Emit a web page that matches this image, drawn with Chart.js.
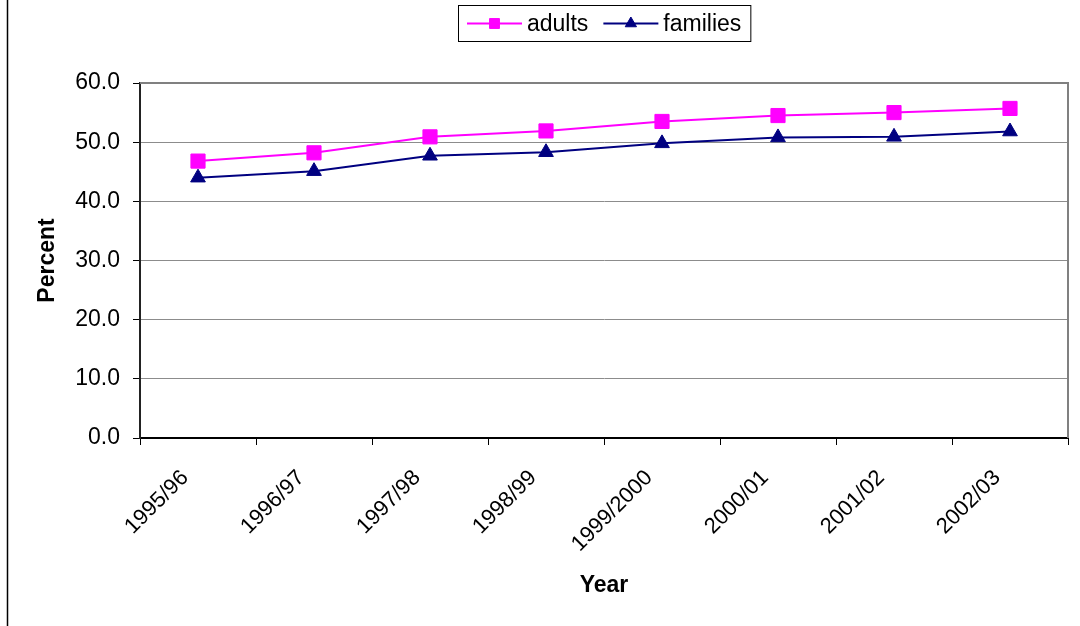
<!DOCTYPE html>
<html>
<head>
<meta charset="utf-8">
<script src="https://cdn.jsdelivr.net/npm/chart.js@4"></script>
<style>
  html, body { margin: 0; padding: 0; background: #fff; }
  canvas { display: block; }
</style>
</head>
<body>
<canvas id="c" width="1080" height="626"></canvas>
<script>
// Survey years (financial years)
const years = ['1995/96', '1996/97', '1997/98', '1998/99', '1999/2000', '2000/01', '2001/02', '2002/03'];
// Percent of adults
const adults = [46.8, 48.2, 50.9, 51.9, 53.5, 54.5, 55.0, 55.7];
// Percent of families
const families = [44.0, 45.1, 47.7, 48.3, 49.8, 50.8, 50.9, 51.8];
// Value-axis range and step
const yMin = 0, yMax = 60, yStep = 10;

const FONT = '"Liberation Sans", Arial, Helvetica, sans-serif';
const ADULT_COLOR = '#FF00FF';
const FAMILY_COLOR = '#000080';

// Draws the outer frame line, the plot-area border and the boxed legend
const framePlugin = {
  id: 'frame',
  afterDraw(chart) {
    const { ctx, chartArea: a } = chart;
    ctx.save();

    // outer frame (left edge)
    ctx.strokeStyle = '#000';
    ctx.lineWidth = 1.5;
    ctx.beginPath();
    ctx.moveTo(7.5, 0);
    ctx.lineTo(7.5, chart.height);
    ctx.stroke();

    // plot area border (top and right)
    ctx.strokeStyle = '#808080';
    ctx.lineWidth = 2;
    ctx.beginPath();
    ctx.moveTo(a.left, a.top);
    ctx.lineTo(a.right, a.top);
    ctx.lineTo(a.right, a.bottom);
    ctx.stroke();

    // legend
    const items = chart.data.datasets.map(ds => ({
      label: ds.label, color: ds.borderColor, style: ds.pointStyle,
      radius: ds.pointStyle === 'rect' ? 7 : 6.5
    }));
    ctx.font = '23px ' + FONT;
    const seg = 55, gapText = 5, gapItem = 15, padX = 9;
    const widths = items.map(it => ctx.measureText(it.label).width);
    let total = padX * 2 + gapItem * (items.length - 1);
    widths.forEach(w => { total += seg + gapText + w; });
    const boxLeft = Math.round((a.left + a.right) / 2 - total / 2);
    const boxTop = 5, boxH = 36;
    ctx.strokeStyle = '#000';
    ctx.lineWidth = 1;
    ctx.strokeRect(boxLeft + 0.5, boxTop + 0.5, total, boxH);

    const cy = boxTop + boxH / 2 + 0.5;
    let x = boxLeft + padX;
    items.forEach((it, i) => {
      ctx.strokeStyle = it.color;
      ctx.lineWidth = 2;
      ctx.beginPath();
      ctx.moveTo(x, cy);
      ctx.lineTo(x + seg, cy);
      ctx.stroke();
      ctx.fillStyle = it.color;
      ctx.strokeStyle = it.color;
      ctx.lineWidth = 1;
      Chart.helpers.drawPoint(ctx, { pointStyle: it.style, radius: it.radius, borderWidth: 1, rotation: 0 }, x + seg / 2, cy);
      ctx.fillStyle = '#000';
      ctx.textAlign = 'left';
      ctx.textBaseline = 'middle';
      ctx.fillText(it.label, x + seg + gapText, cy + 1);
      x += seg + gapText + widths[i] + gapItem;
    });
    ctx.restore();
  }
};

new Chart(document.getElementById('c'), {
  type: 'line',
  data: {
    labels: years,
    datasets: [
      {
        label: 'adults',
        data: adults,
        borderColor: ADULT_COLOR,
        backgroundColor: ADULT_COLOR,
        borderWidth: 2,
        pointStyle: 'rect',
        pointRadius: 10,
        pointBorderWidth: 1,
        pointHoverRadius: 10,
        tension: 0
      },
      {
        label: 'families',
        data: families,
        borderColor: FAMILY_COLOR,
        backgroundColor: FAMILY_COLOR,
        borderWidth: 2,
        pointStyle: 'triangle',
        pointRadius: 8.5,
        pointBorderWidth: 1,
        pointHoverRadius: 8.5,
        tension: 0
      }
    ]
  },
  options: {
    responsive: false,
    animation: false,
    devicePixelRatio: 1,
    layout: { padding: { top: 83, right: 12, bottom: 0, left: 20 } },
    plugins: {
      legend: { display: false },
      tooltip: { enabled: false },
      title: { display: false }
    },
    scales: {
      x: {
        type: 'category',
        offset: true,
        grid: {
          offset: true,
          drawOnChartArea: false,
          drawTicks: true,
          tickLength: 7,
          tickColor: '#000'
        },
        border: { color: '#000', width: 2 },
        ticks: {
          autoSkip: false,
          maxRotation: 45,
          minRotation: 45,
          padding: 20,
          labelOffset: -13,
          color: '#000',
          font: { family: FONT, size: 22 }
        },
        title: {
          display: true,
          text: 'Year',
          color: '#000',
          font: { family: FONT, size: 23, weight: 'bold' },
          padding: { top: 0, bottom: 27 }
        },
        afterFit(scale) { scale.height = 188; }
      },
      y: {
        min: yMin,
        max: yMax,
        grid: {
          color: '#8c8c8c',
          lineWidth: 1,
          tickLength: 7,
          tickColor: '#000'
        },
        border: { color: '#222', width: 2 },
        ticks: {
          stepSize: yStep,
          padding: 13,
          color: '#000',
          font: { family: FONT, size: 23 },
          callback: v => Number(v).toFixed(1)
        },
        title: {
          display: true,
          text: 'Percent',
          color: '#000',
          font: { family: FONT, size: 23, weight: 'bold' },
          padding: { top: 14, bottom: 0 }
        },
        afterFit(scale) { scale.width = 120; }
      }
    }
  },
  plugins: [framePlugin]
});
</script>
</body>
</html>
